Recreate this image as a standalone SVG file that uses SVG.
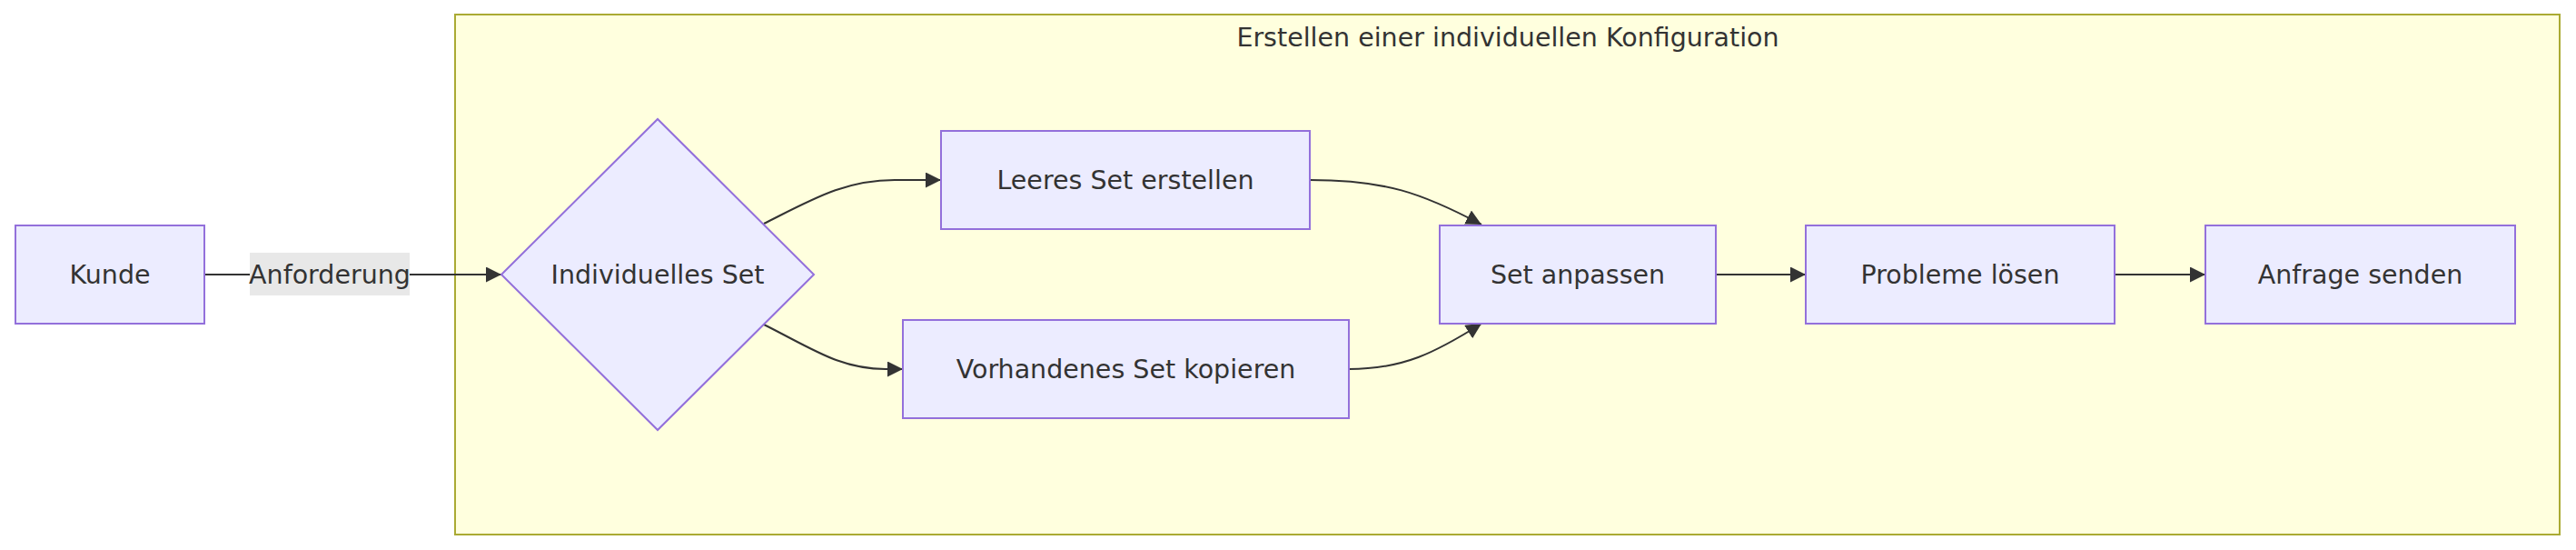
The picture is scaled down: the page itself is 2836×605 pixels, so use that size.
<svg xmlns="http://www.w3.org/2000/svg" width="2836" height="605" viewBox="0 0 2836 605">
<style>
.node{fill:#ECECFF;stroke:#9370DB;stroke-width:2}
.cluster{fill:#ffffde;stroke:#aaaa33;stroke-width:2}
.lbl{font-family:"DejaVu Sans","Liberation Sans",sans-serif;font-size:28.5px;fill:#333;text-anchor:middle;dominant-baseline:central}
.edge{fill:none;stroke:#333;stroke-width:2}
</style>
<defs>
<marker id="arrow" viewBox="0 0 10 10" refX="10" refY="5" markerUnits="userSpaceOnUse" markerWidth="17" markerHeight="17" orient="auto">
<path d="M0,0 L10,5 L0,10 z" fill="#333"/>
</marker>
</defs>
<rect width="2836" height="605" fill="#ffffff"/>
<g id="cluster-konfiguration">
<rect class="cluster" x="501" y="16" width="2317" height="572"/>
<text class="lbl" x="1660" y="41">Erstellen einer individuellen Konfiguration</text>
</g>
<g id="connectors">
<path class="edge" d="M225,302 L552,302" marker-end="url(#arrow)"/>
<path class="edge" d="M841,246 C895,219 930,198 985,198 L1036,198" marker-end="url(#arrow)"/>
<path class="edge" d="M841,357 C895,384 925,406 975,406 L994,406" marker-end="url(#arrow)"/>
<path class="edge" d="M1442,198 C1525,198 1565,212 1631,247" marker-end="url(#arrow)"/>
<path class="edge" d="M1485,406 C1545,406 1580,388 1631,356" marker-end="url(#arrow)"/>
<path class="edge" d="M1889,302 L1988,302" marker-end="url(#arrow)"/>
<path class="edge" d="M2328,302 L2428,302" marker-end="url(#arrow)"/>
<g id="edge-label-anforderung">
<rect x="275" y="278" width="176" height="47" fill="#e8e8e8"/>
<text class="lbl" x="363" y="302">Anforderung</text>
</g>
</g>
<g id="node-kunde">
<rect class="node" x="17" y="248" width="208" height="108"/>
<text class="lbl" x="121" y="302">Kunde</text>
</g>
<g id="node-individuelles-set">
<polygon class="node" points="552,302 724,131 896,302 724,473"/>
<text class="lbl" x="724" y="302">Individuelles Set</text>
</g>
<g id="node-leeres-set">
<rect class="node" x="1036" y="144" width="406" height="108"/>
<text class="lbl" x="1239" y="198">Leeres Set erstellen</text>
</g>
<g id="node-vorhandenes-set">
<rect class="node" x="994" y="352" width="491" height="108"/>
<text class="lbl" x="1239.5" y="406">Vorhandenes Set kopieren</text>
</g>
<g id="node-set-anpassen">
<rect class="node" x="1585" y="248" width="304" height="108"/>
<text class="lbl" x="1737" y="302">Set anpassen</text>
</g>
<g id="node-probleme-loesen">
<rect class="node" x="1988" y="248" width="340" height="108"/>
<text class="lbl" x="2158" y="302">Probleme lösen</text>
</g>
<g id="node-anfrage-senden">
<rect class="node" x="2428" y="248" width="341" height="108"/>
<text class="lbl" x="2598.5" y="302">Anfrage senden</text>
</g>
</svg>
